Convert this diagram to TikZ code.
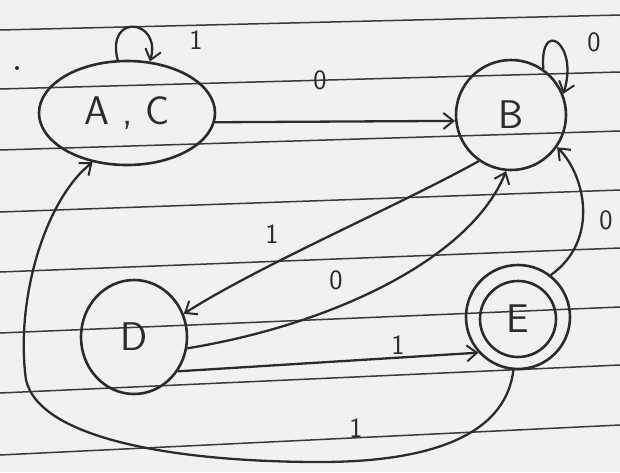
\documentclass[tikz,border=0pt]{standalone}
\usetikzlibrary{shapes.geometric,arrows.meta}
\definecolor{pen}{HTML}{2B2B2B}
\definecolor{paper}{HTML}{F1F1F1}
\definecolor{rule}{HTML}{3A3A3A}
\begin{document}
\begin{tikzpicture}[x=1pt,y=-1pt,
  statebox/.style={draw=pen,line width=2.6pt,inner sep=0pt,font=\sffamily\fontsize{40}{44}\selectfont,text=pen},
  arr/.style={draw=pen,line width=2.3pt,-{Straight Barb[length=10pt,width=16pt,line width=2pt]}},
  lbl/.style={text=pen,font=\sffamily\fontsize{28}{30}\selectfont},
  ruled/.style={draw=rule,line width=1.5pt}]
\useasboundingbox[fill=paper] (0,0) rectangle (620,472);
% ruled paper lines
\foreach \yl/\d in {30/15,89/17,150/19,212/22,272/24,333/26,393/28,455/30}{
  \draw[ruled] (0,\yl) -- (620,\yl-\d);
}
\fill[pen] (17,68) circle (2pt);
% states
\node[statebox,ellipse,minimum width=176pt,minimum height=104pt] (AC) at (127,113) {A , C};
\node[statebox,circle,minimum size=110pt] (B) at (511,115) {B};
\node[statebox,ellipse,minimum width=106pt,minimum height=114pt] (D) at (134,337) {D};
\node[statebox,circle,minimum size=104pt] (E) at (518,317) {};
\node[statebox,circle,minimum size=76pt] (Ein) at (518,319) {E};
% transitions
\draw[arr] (AC.100) .. controls +(-12,-48) and +(12,-42) .. (AC.66);
\node[lbl] (l1) at (196,40) {1};
\draw[arr] (B.55) .. controls +(-4,-52) and +(16,-50) .. (B.22);
\node[lbl] (l2) at (594,42) {0};
\draw[arr] (AC.-6) -- (B.186);
\node[lbl] (l3) at (320,80) {0};
\draw[arr] (B.235) .. controls (400,205) and (260,265) .. (D.25);
\node[lbl] (l4) at (272,234) {1};
\draw[arr] (D.-12) .. controls (330,325) and (470,260) .. (B.-95);
\node[lbl] (l5) at (336,280) {0};
\draw[arr] (D.-38) -- (E.222);
\node[lbl] (l6) at (398,345) {1};
\draw[arr] (E.52) .. controls (600,240) and (585,175) .. (B.-35);
\node[lbl] (l7) at (606,220) {0};
\draw[arr] (E.265) .. controls (505,440) and (420,462) .. (320,462)
   .. controls (180,462) and (40,440) .. (26,380)
   .. controls (15,300) and (45,200) .. (AC.235);
\node[lbl] (l8) at (356,428) {1};
\end{tikzpicture}
\end{document}
